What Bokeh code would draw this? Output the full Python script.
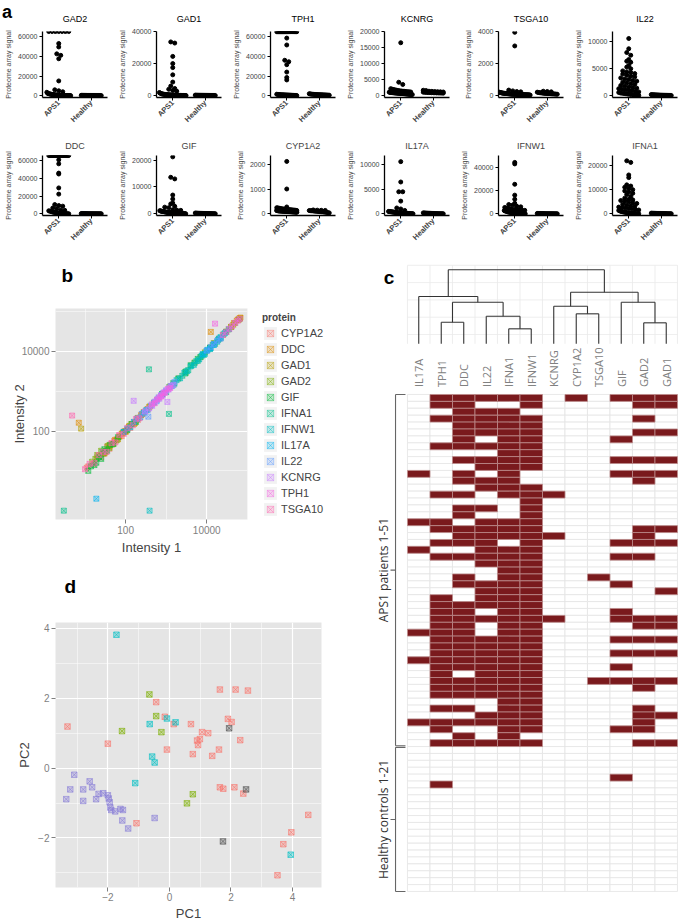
import math
from bokeh.plotting import figure
from bokeh.layouts import row, column
from bokeh.models import FixedTicker, Legend, LegendItem, Spacer
from bokeh.core.properties import value
from bokeh.embed import file_html
from bokeh.resources import INLINE

SANS = "Liberation Sans"
OPEN = "Open Sans"

# ---------------- panel a data ----------------
a_groups = ["APS1", "Healthy"]
a_names = ["GAD2", "GAD1", "TPH1", "KCNRG", "TSGA10", "IL22",
           "DDC", "GIF", "CYP1A2", "IL17A", "IFNW1", "IFNA1"]

gad2_aps = [65200, 65200, 65200, 65200, 65200, 65200, 65200, 53000, 49500, 42500, 41000, 37500, 15000,
            6000, 5000, 4000, 3500, 2500, 2200, 2000, 1800, 1600, 1500, 1400, 1200, 1100, 1000, 900, 800,
            700, 650, 600, 550, 500, 450, 400, 380, 350, 320, 300, 280, 260, 240, 220, 200, 180, 160, 140,
            120, 100, 80]
gad2_hc = [420, 400, 380, 360, 340, 320, 300, 290, 280, 270, 260, 250, 240, 230, 220, 210, 200, 190, 180, 160, 140]

gad1_aps = [33500, 32800, 24500, 20000, 17500, 13000, 8500, 6000, 4500, 4000, 3300, 2800, 2000, 1600, 1400,
            1200, 1100, 1000, 900, 850, 800, 750, 700, 650, 600, 550, 500, 480, 460, 440, 420, 400, 380, 360,
            340, 320, 300, 280, 260, 240, 220, 200, 180, 160, 150, 140, 130, 120, 110, 100, 90]
gad1_hc = [350, 330, 320, 300, 290, 280, 270, 260, 250, 240, 230, 220, 210, 200, 190, 180, 170, 160, 150, 140, 130]

tph1_aps = [65000, 65000, 65000, 65000, 65000, 65000, 65000, 65000, 65000, 65000, 65000, 65000, 65000, 65000,
            65000, 65000, 65000, 65000, 65000, 65000, 65000, 65000, 58500, 51500, 36000, 34500, 31500, 24000,
            18500, 16000, 1500, 1300, 1200, 1100, 1000, 950, 900, 850, 800, 750, 700, 650, 600, 550, 500, 450,
            400, 350, 300, 250, 200]
tph1_hc = [2000, 1800, 1600, 1500, 1400, 1300, 1200, 1150, 1100, 1050, 1000, 950, 900, 850, 800, 750, 700,
           650, 600, 550, 500]

kcnrg_aps = [16500, 4200, 3500, 2200, 2000, 1900, 1800, 1700, 1600, 1500, 1450, 1400, 1350, 1300, 1250, 1200,
             1150, 1100, 1050, 1000, 980, 960, 940, 920, 900, 880, 860, 840, 820, 800, 780, 760, 740, 720, 700,
             680, 660, 640, 620, 600, 580, 560, 540, 520, 500, 480, 460, 440, 420, 400, 350]
kcnrg_hc = [1700, 1600, 1400, 1350, 1300, 1250, 1200, 1150, 1100, 1050, 1000, 980, 960, 940, 920, 900, 880,
            860, 840, 820, 800]

tsga10_aps = [3950, 3100, 350, 300, 260, 240, 220, 200, 190, 180, 170, 160, 155, 150, 145, 140, 135, 130, 125,
              120, 115, 110, 105, 100, 98, 96, 94, 92, 90, 88, 86, 84, 82, 80, 78, 76, 74, 72, 70, 68, 66, 64,
              62, 60, 58, 56, 54, 52, 50, 45, 40]
tsga10_hc = [280, 260, 240, 220, 200, 190, 180, 170, 160, 150, 145, 140, 135, 130, 125, 120, 115, 110, 105, 100, 90]

il22_aps = [10600, 8700, 8000, 7500, 6700, 6400, 6200, 5600, 5300, 5000, 4600, 4400, 4300, 4100, 4000, 3800,
            3600, 3500, 3300, 3100, 3000, 2800, 2700, 2500, 2400, 2200, 2100, 1900, 1800, 1600, 1500, 1400,
            1300, 1200, 1100, 1000, 900, 800, 700, 600, 500, 450, 400, 350, 300, 250, 200, 150, 100, 80, 50]
il22_hc = [200, 180, 170, 160, 150, 140, 130, 120, 110, 100, 95, 90, 85, 80, 75, 70, 65, 60, 55, 50, 40]

ddc_aps = [65900, 65900, 65900, 65900, 65900, 65900, 65900, 65900, 65900, 65900, 65900, 65900, 65900, 65900,
           65900, 65900, 65900, 65900, 65900, 65900, 61000, 56500, 46000, 45000, 29300, 22300, 10500, 9400,
           8700, 6600, 5900, 4500, 4000, 3500, 3000, 2600, 2200, 1900, 1600, 1400, 1200, 1000, 900, 800, 700,
           600, 500, 400, 300, 200, 100]
ddc_hc = [400, 380, 360, 340, 320, 300, 280, 260, 250, 240, 230, 220, 210, 200, 190, 180, 170, 160, 150, 130, 110]

gif_aps = [21200, 13600, 13000, 7000, 5500, 4000, 3700, 2800, 2500, 2300, 1500, 1400, 1300, 1200, 1100, 1000,
           950, 900, 850, 800, 750, 700, 650, 600, 550, 500, 480, 460, 440, 420, 400, 380, 360, 340, 320, 300,
           280, 260, 240, 220, 200, 180, 160, 140, 120, 100, 90, 80, 70, 60, 50]
gif_hc = [300, 280, 260, 240, 220, 200, 190, 180, 170, 160, 150, 140, 130, 120, 110, 100, 90, 80, 70, 60, 50]

cyp1a2_aps = [2130, 1010, 280, 250, 240, 230, 220, 210, 200, 195, 190, 185, 180, 175, 170, 165, 160, 155, 150,
              145, 140, 135, 130, 125, 120, 118, 116, 114, 112, 110, 108, 106, 104, 102, 100, 98, 96, 94, 92,
              90, 88, 86, 84, 82, 80, 78, 76, 74, 72, 70, 65]
cyp1a2_hc = [160, 150, 145, 140, 135, 130, 125, 120, 115, 110, 105, 100, 95, 90, 85, 80, 75, 70, 60, 50, 40]

il17a_aps = [10650, 6500, 4500, 4500, 2600, 1200, 1000, 700, 500, 480, 460, 440, 420, 400, 380, 360, 340, 320,
             300, 280, 260, 240, 220, 200, 190, 180, 170, 160, 150, 140, 130, 120, 110, 100, 90, 80, 70, 60,
             50, 40, 30, 25, 20, 15, 10]
il17a_hc = [200, 180, 160, 150, 140, 130, 120, 110, 100, 90, 80, 70, 60, 55, 50, 45, 40, 35, 30, 25, 20]

ifnw1_aps = [44000, 42700, 25300, 16000, 12500, 9000, 8000, 7500, 6500, 6000, 5500, 5000, 4500, 4000, 3800,
             3500, 3200, 3000, 2800, 2600, 2400, 2200, 2000, 1800, 1600, 1500, 1400, 1300, 1200, 1100, 1000,
             900, 800, 700, 600, 500, 450, 400, 350, 300, 250, 200, 180, 160, 140, 120, 100, 80, 60, 40, 20]
ifnw1_hc = [400, 350, 320, 300, 280, 260, 240, 220, 200, 190, 180, 170, 160, 150, 140, 130, 120, 100, 80, 60, 50]

ifna1_aps = [21950, 21300, 16100, 15000, 12000, 11500, 11000, 10500, 10000, 9500, 9000, 8500, 8000, 7200,
             6500, 6000, 5800, 5500, 5200, 5000, 4600, 4300, 4000, 3700, 3400, 3100, 2800, 2600, 2400, 2200,
             2000, 1800, 1600, 1400, 1200, 1000, 900, 800, 700, 600, 500, 400, 350, 300, 250, 200, 150, 100,
             80, 60, 40]
ifna1_hc = [300, 280, 260, 240, 220, 200, 190, 180, 170, 160, 150, 140, 130, 120, 110, 100, 90, 80, 70, 60, 50]

a_values = {
    "GAD2": (gad2_aps, gad2_hc), "GAD1": (gad1_aps, gad1_hc), "TPH1": (tph1_aps, tph1_hc),
    "KCNRG": (kcnrg_aps, kcnrg_hc), "TSGA10": (tsga10_aps, tsga10_hc), "IL22": (il22_aps, il22_hc),
    "DDC": (ddc_aps, ddc_hc), "GIF": (gif_aps, gif_hc), "CYP1A2": (cyp1a2_aps, cyp1a2_hc),
    "IL17A": (il17a_aps, il17a_hc), "IFNW1": (ifnw1_aps, ifnw1_hc), "IFNA1": (ifna1_aps, ifna1_hc),
}
a_yticks = {
    "GAD2": [0, 20000, 40000, 60000], "GAD1": [0, 20000, 40000], "TPH1": [0, 20000, 40000, 60000],
    "KCNRG": [0, 5000, 10000, 15000, 20000], "TSGA10": [0, 2000, 4000], "IL22": [0, 5000, 10000],
    "DDC": [0, 20000, 40000, 60000], "GIF": [0, 10000, 20000], "CYP1A2": [0, 1000, 2000],
    "IL17A": [0, 5000, 10000], "IFNW1": [0, 20000, 40000], "IFNA1": [0, 10000, 20000],
}
a_ymax = {"GAD2": 65200, "GAD1": 40000, "TPH1": 65200, "KCNRG": 20000, "TSGA10": 4000, "IL22": 11900,
          "DDC": 65900, "GIF": 21700, "CYP1A2": 2370, "IL17A": 11900, "IFNW1": 49900, "IFNA1": 24150}

# ---------------- panel b data ----------------
b_proteins = ["CYP1A2", "DDC", "GAD1", "GAD2", "GIF", "IFNA1", "IFNW1", "IL17A", "IL22", "KCNRG", "TPH1", "TSGA10"]
b_colors = ["#F8766D", "#DE8C00", "#B79F00", "#7CAE00", "#00BA38", "#00C08B",
            "#00BFC4", "#00B4F0", "#619CFF", "#C77CFF", "#F564E3", "#FF64B0"]
b_int1 = {
    "CYP1A2": [11, 12, 16, 20, 25, 30, 35, 40, 45, 52, 60, 70, 80, 95, 110, 130, 160, 200, 250],
    "DDC": [7, 40, 55, 70, 85, 100, 120, 140, 170, 200, 240, 280, 350, 400, 12600, 30000, 40000, 47000, 55000, 60000, 65000, 68000],
    "GAD1": [8, 30, 40, 50, 65, 80, 100, 125, 160, 200, 260, 320, 380, 15000, 25000, 35000, 45000, 60000, 66000],
    "GAD2": [15, 18, 20, 22, 25, 28, 32, 36, 40, 48, 60, 1200, 2000, 3000, 5000, 7000, 9000, 12000, 15000, 20000, 30000, 40000, 50000, 64000],
    "GIF": [12, 14, 17, 19, 22, 25, 27, 30, 35, 42, 50, 65, 90, 110, 140, 180, 500, 800, 1500, 3000, 4000, 6000, 8000, 12000],
    "IFNA1": [3, 376, 1170, 600, 800, 1000, 1300, 1600, 2000, 2500, 3000, 3500, 4200, 5000, 6000, 7000, 8500, 10000, 12000, 14000, 16000, 19000, 22000, 26000, 30000],
    "IFNW1": [390, 1500, 1800, 2200, 2800, 3300, 4000, 4800, 5500, 6500, 7500, 9000, 10500, 12500, 15000, 18000, 22000, 28000, 35000],
    "IL17A": [19, 90, 110, 130, 160, 190, 230, 280, 330, 8000, 10000, 12000, 15000, 20000],
    "IL22": [363, 200, 250, 300, 350, 420, 500, 580, 650, 750, 850, 1000, 1200, 1400, 1600, 10000, 12500, 15000, 18000, 22000],
    "KCNRG": [1070, 158, 300, 380, 450, 520, 600, 680, 750, 820, 900, 1000, 1150, 1300, 1500],
    "TPH1": [16000, 450, 520, 600, 680, 760, 850, 950, 1100, 1250, 25000, 30000, 36000, 42000, 50000, 58000, 65000],
    "TSGA10": [4.8, 10, 13, 17, 22, 28, 34, 45, 56, 70, 90, 110, 150, 180, 220],
}
b_int2 = {
    "CYP1A2": [12, 13, 15, 22, 22, 27, 40, 36, 48, 56, 62, 75, 75, 100, 110, 120, 170, 190, 260],
    "DDC": [162, 42, 60, 72, 90, 95, 130, 150, 160, 215, 250, 300, 360, 420, 31000, 31500, 42000, 52000, 60000, 64000, 68000, 71000],
    "GAD1": [115, 28, 45, 48, 62, 85, 100, 135, 150, 210, 270, 330, 400, 16000, 26000, 36000, 47000, 62000, 68000],
    "GAD2": [17, 20, 25, 24, 32, 27, 30, 42, 38, 46, 58, 1300, 2100, 3100, 5300, 7200, 9500, 12500, 16000, 21000, 31000, 41000, 52000, 64500],
    "GIF": [10, 13, 14, 16, 22, 20, 30, 35, 32, 45, 48, 70, 95, 105, 150, 170, 520, 850, 1600, 2800, 4500, 6500, 8500, 12500],
    "IFNA1": [1, 3550, 270, 620, 850, 950, 1350, 1550, 2100, 2450, 3100, 3400, 4400, 5100, 5800, 7300, 8200, 10500, 11500, 14500, 15500, 19500, 21500, 27000, 31000],
    "IFNW1": [1, 1450, 1900, 2100, 2900, 3200, 4200, 4600, 5700, 6300, 7800, 8700, 11000, 12000, 15500, 17500, 23000, 29000, 36000],
    "IL17A": [2, 95, 115, 125, 170, 200, 220, 290, 340, 8500, 10500, 11800, 14500, 21000],
    "IL22": [230, 210, 270, 310, 340, 440, 520, 560, 700, 780, 900, 1050, 1250, 1350, 1700, 10500, 13000, 15500, 18500, 21000],
    "KCNRG": [540, 575, 310, 370, 430, 550, 620, 650, 800, 780, 950, 1050, 1100, 1350, 1450],
    "TPH1": [50000, 470, 500, 620, 700, 740, 880, 920, 1150, 1200, 26000, 30500, 37000, 43000, 52000, 59000, 66000],
    "TSGA10": [245, 11, 15, 16, 25, 30, 30, 50, 52, 80, 85, 120, 140, 200, 210],
}

# ---------------- panel c data ----------------
hm_cols = ["IL17A", "TPH1", "DDC", "IL22", "IFNA1", "IFNW1", "KCNRG", "CYP1A2", "TSGA10", "GIF", "GAD2", "GAD1"]
aps_rows = [
    "011111010111", "011001000011", "001110000000", "011111000010", "001111000000", "001111000011",
    "001011000100", "011111000000", "000011000000", "001111000111", "000111000000", "101010000111",
    "001110000010", "000111000000", "011011100000", "000001000000", "001101000000", "001001000000",
    "110111000000", "011111000011", "001111100010", "011101000111", "100111000000", "011111000110",
    "000111000000", "000011000000", "001011001000", "001111000100", "000111000001", "010111000000",
    "011111000000", "011011000100", "011111100111", "011011000011", "111011000000", "011111000111",
    "011111000000", "011111000111", "111111000000", "011111000100", "010111000000", "011111001111",
    "011111000010", "011111000000", "000011000000", "011011000010", "000111000011", "111111000010",
    "010011000110", "001010000000", "011111000011",
]
hc_rows = [
    "000000000000", "000000000000", "000000000000", "000000000000", "000000000100", "010000000000",
    "000000000000", "000000000000", "000000000000", "000000000000", "000000000000", "000000000000",
    "000000000000", "000000000000", "000000000000", "000000000000", "000000000000", "000000000000",
    "000000000000", "000000000000", "000000000000",
]
# dendrogram merges: (child a, child b, height); leaves 0..11, merge k creates node 12+k
dend_merges = [(4, 5, 1.50), (10, 11, 2.10), (1, 2, 2.16), (3, 12, 2.76), (7, 8, 3.00), (6, 16, 3.76),
               (14, 15, 4.16), (9, 13, 4.16), (0, 18, 4.73), (17, 19, 5.16), (20, 21, 7.40)]
group_labels = ["APS1 patients 1-51", "Healthy controls 1-21"]

# ---------------- panel d data ----------------
d_groups = ["red", "green", "cyan", "purple", "gray"]
d_colors = ["#F8766D", "#7CAE00", "#00BFC4", "#8A7FD6", "#4D4D4D"]
d_pc1 = {
    "red": [-0.43, -3.31, -2.0, -0.15, 0.14, -0.08, 0.7, 1.06, 1.26, 0.9, 0.99, 0.93, 0.76, 1.39, 1.61, 1.64,
            2.15, 2.55, 1.9, 2.02, 2.3, 1.64, 1.75, 2.11, 2.4, -1.07, 4.51, 3.96, 3.70, 3.51],
    "green": [-0.65, -0.43, -1.54, -0.26, 0.76, 0.57],
    "cyan": [-1.72, -0.64, -0.56, -0.48, -1.11, -0.08, 0.2, 3.94],
    "purple": [-3.09, -3.22, -3.35, -2.8, -2.8, -2.59, -2.51, -2.3, -2.38, -2.15, -2.0, -1.97, -1.94, -1.92,
               -1.76, -1.59, -1.51, -1.53, -1.34, -0.48, -1.89],
    "gray": [1.94, 2.49, 1.74],
}
d_pc2 = {
    "red": [1.89, 1.19, 0.70, 1.47, 1.26, 0.53, 1.26, 1.03, 1.0, 0.79, 0.83, 0.66, 0.40, 0.35, 0.53, 2.25,
            2.25, 2.22, 1.41, 1.32, 0.80, -0.55, -0.59, -0.55, -0.73, -1.58, -1.34, -1.84, -2.18, -3.07],
    "green": [2.11, 1.49, 1.06, 1.03, -0.75, -1.01],
    "cyan": [3.82, 1.26, 0.33, 0.16, -0.43, 1.42, 1.31, -2.48],
    "purple": [-0.19, -0.61, -0.89, -0.61, -0.94, -0.38, -0.55, -0.74, -0.89, -0.72, -0.78, -0.87, -0.98,
               -1.13, -1.24, -1.17, -1.2, -1.5, -1.73, -1.43, -1.2],
    "gray": [1.14, -0.61, -2.10],
}


# ================= helpers =================
def blank(w, h, xr=None, yr=None):
    p = figure(width=w, height=h, x_range=xr or (0, w), y_range=yr or (0, h), min_border=0,
               x_axis_location=None, y_axis_location=None, output_backend="svg", toolbar_location=None)
    p.grid.visible = False
    p.outline_line_color = None
    return p


def put_letter(p, letter, x, y, size="19px"):
    p.text(x=[x], y=[y], text=[letter], text_font=value(SANS), text_font_size=size,
           text_font_style="bold", text_baseline="middle", text_align="left", text_color="black")


def swarm(vals, center, yr, frame_h, px_per_x):
    ppy = frame_h / (yr[1] - yr[0])
    bins = {}
    for v in sorted(vals, reverse=True):
        b = int(round((v - yr[0]) * ppy / 3.6))
        bins.setdefault(b, []).append(v)
    xs, ys = [], []
    for b, vs in bins.items():
        n = len(vs)
        step = 4.0 if n <= 5 else max(20.0 / (n - 1), 0.7)
        for i, v in enumerate(vs):
            off = (i - (n - 1) / 2.0) * step
            xs.append(center + off / px_per_x)
            ys.append(v)
    return xs, ys


A_LEFT, A_FW = 42, 65


def mini(name, w, h, top, fh, with_title):
    aps, hc = a_values[name]
    ymax = a_ymax[name]
    yr = (-ymax * 0.028, ymax)
    p = figure(width=w, height=h, x_range=(0, 2), y_range=yr, output_backend="svg",
               toolbar_location=None, min_border_left=A_LEFT, min_border_right=w - A_LEFT - A_FW,
               min_border_top=top, min_border_bottom=h - top - fh)
    if with_title:
        p.title.text = name
        p.title.align = "center"
        p.title.text_font = SANS
        p.title.text_font_size = "9px"
        p.title.text_font_style = "normal"
        p.title.standoff = 10
    p.grid.visible = False
    p.outline_line_color = None
    xa = p.xaxis[0]
    xa.ticker = FixedTicker(ticks=[0.5, 1.5])
    xa.major_label_overrides = {0.5: a_groups[0], 1.5: a_groups[1]}
    xa.major_label_orientation = math.pi / 4
    xa.major_label_text_font_style = "bold"
    xa.major_label_text_font = SANS
    xa.major_label_text_font_size = "7.5px"
    xa.major_label_standoff = 1
    ya = p.yaxis[0]
    ya.ticker = FixedTicker(ticks=a_yticks[name])
    ya.axis_label = "Proteome array signal"
    ya.axis_label_text_font = SANS
    ya.axis_label_text_font_size = "7px"
    ya.axis_label_text_font_style = "normal"
    ya.axis_label_standoff = 3
    ya.major_label_text_font = SANS
    ya.major_label_text_font_size = "7px"
    ya.major_label_standoff = 2
    for ax in (xa, ya):
        ax.axis_line_width = 1.3
        ax.axis_line_color = "black"
        ax.major_tick_out = 3
        ax.major_tick_in = 0
        ax.major_tick_line_width = 1
        ax.minor_tick_line_color = None
    x1, y1 = swarm(aps, 0.5, yr, fh, A_FW / 2.0)
    x2, y2 = swarm(hc, 1.5, yr, fh, A_FW / 2.0)
    p.scatter(x1 + x2, y1 + y2, size=4.0, color="black")
    return p


def gg_style(p):
    p.background_fill_color = "#E5E5E5"
    p.outline_line_color = None
    p.grid.grid_line_color = "white"
    p.grid.grid_line_width = 1.2
    p.grid.minor_grid_line_color = "white"
    p.grid.minor_grid_line_width = 0.5
    for ax in p.axis:
        ax.axis_line_color = None
        ax.major_tick_line_color = "#7F7F7F"
        ax.major_tick_out = 4
        ax.major_tick_in = 0
        ax.minor_tick_line_color = None
        ax.major_label_text_color = "#7F7F7F"
        ax.major_label_text_font = SANS
        ax.major_label_text_font_size = "10px"
        ax.major_label_standoff = 2
        ax.axis_label_text_font = SANS
        ax.axis_label_text_font_style = "normal"
        ax.axis_label_text_font_size = "13px"
        ax.axis_label_standoff = 3


# ================= panel a =================
widths = [114, 114, 114, 114, 114, 115]
STRIP_A_H = 22
strip_a = blank(685, STRIP_A_H)
put_letter(strip_a, "a", 1.5, 11.0, size="18px")
title_x, acc = [], 0
for w in widths:
    title_x.append(acc + A_LEFT + A_FW / 2.0)
    acc += w
strip_a.text(x=title_x, y=[STRIP_A_H - 18] * 6, text=a_names[:6], text_font=value(SANS),
             text_font_size="9px", text_align="center", text_baseline="middle", text_color="black")
row1 = [mini(n, widths[i], 111, 9, 66, False) for i, n in enumerate(a_names[:6])]
row2 = [mini(n, widths[i], 115, 22, 64, True) for i, n in enumerate(a_names[6:])]

# ================= panel b =================
strip_b = blank(355, 40)
put_letter(strip_b, "b", 8, 13.0)
pb = figure(width=252, height=269, x_axis_type="log", y_axis_type="log",
            x_range=(1.87, 101000), y_range=(0.6, 120000),
            min_border_left=55, min_border_right=5, min_border_top=20, min_border_bottom=36,
            output_backend="svg", toolbar_location=None)
pb.xaxis.ticker = FixedTicker(ticks=[100, 10000], minor_ticks=[10, 1000, 100000])
pb.yaxis.ticker = FixedTicker(ticks=[100, 10000], minor_ticks=[10, 1000, 100000])
pb.xaxis.major_label_overrides = {100: "100", 10000: "10000"}
pb.yaxis.major_label_overrides = {100: "100", 10000: "10000"}
pb.xaxis.axis_label = "Intensity 1"
pb.yaxis.axis_label = "Intensity 2"
gg_style(pb)
pb.yaxis.axis_label_standoff = -8
for prot, col in zip(b_proteins, b_colors):
    pb.scatter(b_int1[prot], b_int2[prot], marker="square_x", size=5, fill_color=col, fill_alpha=0.25,
               line_color=col, line_alpha=0.7, line_width=0.8)

# legend panel: its own frame; its sample glyphs sit outside the visible range
lf = blank(103, 255, (0, 1), (0, 1))
key = lf.quad(left=[5], right=[6], top=[6], bottom=[5], fill_color="#F2F2F2", line_color=None)
items = []
for prot, col in zip(b_proteins, b_colors):
    r = lf.scatter([5], [5], marker="square_x", size=5, fill_color=col, fill_alpha=0.2,
                   line_color=col, line_alpha=0.6, line_width=0.7)
    items.append(LegendItem(label=prot, renderers=[key, r]))
leg = Legend(items=items, location="top_left", title="protein", title_text_font=SANS,
             title_text_font_style="bold", title_text_font_size="10px", label_text_font=SANS,
             label_text_font_size="11px", glyph_width=16, glyph_height=16, label_height=16, spacing=0,
             padding=0, margin=10, border_line_color=None, background_fill_alpha=0, label_standoff=3,
             title_standoff=2)
lf.add_layout(leg)
legend_col = column(Spacer(width=103, height=14), lf)

# ================= panel d =================
strip_d = blank(355, 40)
put_letter(strip_d, "d", 12, 10.7)
pd_ = figure(width=355, height=326, x_range=(-3.70, 4.94), y_range=(-3.42, 4.17),
             min_border_left=55, min_border_right=34, min_border_top=25, min_border_bottom=34,
             output_backend="svg", toolbar_location=None)
pd_.xaxis.ticker = FixedTicker(ticks=[-2, 0, 2, 4], minor_ticks=[-3, -1, 1, 3])
pd_.yaxis.ticker = FixedTicker(ticks=[-2, 0, 2, 4], minor_ticks=[-3, -1, 1, 3])
pd_.xaxis.major_label_overrides = {-2: "\u22122"}
pd_.yaxis.major_label_overrides = {-2: "\u22122"}
pd_.xaxis.axis_label = "PC1"
pd_.yaxis.axis_label = "PC2"
gg_style(pd_)
pd_.xaxis.major_label_standoff = 1
pd_.xaxis.axis_label_standoff = 2
for g, col in zip(d_groups, d_colors):
    pd_.scatter(d_pc1[g], d_pc2[g], marker="square_x", size=5.5, fill_color=col, fill_alpha=0.3,
                line_color=col, line_alpha=0.75, line_width=0.8)

# ================= panel c =================
pc = blank(330, 675, (-2.311, 12.356), (-4.636, 93.15))

all_rows = aps_rows + hc_rows
N = len(all_rows)
ncol = len(hm_cols)
ex, ey, fx, fy = [], [], [], []
for r, s in enumerate(all_rows):
    for c, ch in enumerate(s):
        if ch == "1":
            fx.append(c + 0.5); fy.append(N - r - 0.5)
        else:
            ex.append(c + 0.5); ey.append(N - r - 0.5)
pc.rect(ex, ey, width=1, height=1, fill_color="white", line_color="#E4E4E4", line_width=0.8)
pc.rect(fx, fy, width=1, height=1, fill_color="#7A1A1D", line_color="#BC8C8C", line_width=0.8)

leaf_y = N + 7.34
dsc = 1.449
gx0, gy0, gx1, gy1 = [], [], [], []
top_h = 0.93 + 1.73 * 4
for c in range(ncol + 1):
    gx0.append(c); gx1.append(c); gy0.append(leaf_y); gy1.append(leaf_y + top_h * dsc)
for k in range(5):
    yy = leaf_y + (0.93 + 1.73 * k) * dsc
    gx0.append(0); gx1.append(ncol); gy0.append(yy); gy1.append(yy)
pc.segment(gx0, gy0, gx1, gy1, line_color="#EAEAEA", line_width=0.8)

node_x = {i: i + 0.5 for i in range(ncol)}
node_h = {i: 0.0 for i in range(ncol)}
sx0, sy0, sx1, sy1 = [], [], [], []
for k, (a, b, h) in enumerate(dend_merges):
    xa, xb = node_x[a], node_x[b]
    ya_, yb_, yh = leaf_y + node_h[a] * dsc, leaf_y + node_h[b] * dsc, leaf_y + h * dsc
    sx0 += [xa, xb, xa]; sy0 += [ya_, yb_, yh]; sx1 += [xa, xb, xb]; sy1 += [yh, yh, yh]
    node_x[ncol + k] = (xa + xb) / 2.0
    node_h[ncol + k] = h
pc.segment(sx0, sy0, sx1, sy1, line_color="#333333", line_width=1.1)

pc.text(x=[c + 0.5 for c in range(ncol)], y=[N + 1.08] * ncol, text=hm_cols, angle=math.pi / 2,
        text_align="left", text_baseline="middle", text_font=value(OPEN), text_font_size="11px",
        text_color="#808080")

n_aps, n_hc = len(aps_rows), len(hc_rows)
bx, tin, tout = -0.532, -0.09, -0.755
spans = [(N, N - n_aps + 0.12), (n_hc - 0.12, 0)]
bx0, by0, bx1, by1 = [], [], [], []
mids = []
for (t, bt) in spans:
    mid = (t + bt) / 2.0
    mids.append(mid)
    bx0 += [bx, bx, bx, tout]; by0 += [t, t, bt, mid]
    bx1 += [bx, tin, tin, bx]; by1 += [bt, t, bt, mid]
pc.segment(bx0, by0, bx1, by1, line_color="#666666", line_width=1.1)
pc.text(x=[-1.07, -1.07], y=mids, text=group_labels, angle=math.pi / 2, text_align="center",
        text_baseline="middle", text_font=value(OPEN), text_font_size="12px", text_color="#333333")
put_letter(pc, "c", -1.05, 88.93)

left_col = column(strip_b, row(pb, legend_col), strip_d, pd_)
layout = column(strip_a, row(*row1), row(*row2), row(left_col, pc))
open("out.html", "w").write(file_html(layout, INLINE))
